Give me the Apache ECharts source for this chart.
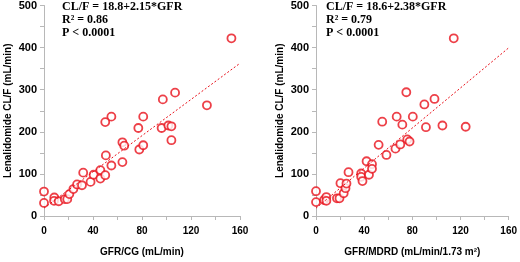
<!DOCTYPE html>
<html>
<head>
<meta charset="utf-8">
<script src="https://cdn.jsdelivr.net/npm/echarts@6/dist/echarts.min.js"></script>
<style>
  html, body { margin: 0; padding: 0; background: #fff; }
  #chart { width: 520px; height: 262px; }
</style>
</head>
<body>
<div id="chart"></div>
<script>
// GFR (Cockcroft-Gault) vs lenalidomide CL/F
var cgPoints = [
  [0, 58], [0, 31], [8.4, 44], [8.2, 36], [12, 35], [17, 40], [19, 40], [20.7, 52],
  [24, 64], [27, 75], [31, 73], [32, 103], [38, 81], [40.5, 98], [46, 109], [46, 89],
  [50, 97], [50.5, 144], [55, 120], [64, 128], [64, 175], [65.5, 167], [77.8, 158], [81, 168],
  [104, 180], [77, 209], [96, 209], [101.5, 215], [104, 213], [81, 236], [55, 236], [50, 223],
  [97, 277], [107, 293], [133, 263], [153, 422]
];
// GFR (MDRD) vs lenalidomide CL/F
var mdrdPoints = [
  [0, 59], [0, 33], [6.7, 38], [8.6, 45], [8.6, 36], [17.4, 42], [19.5, 42], [20.3, 78],
  [23, 54], [24.5, 66], [25.3, 77], [27, 104], [37.5, 101], [37.5, 93], [38.6, 83], [42, 130],
  [44, 98], [46.5, 123], [46.5, 112], [52, 169], [58.5, 145], [66, 160], [70, 170], [75.8, 182],
  [77.7, 177], [55, 224], [67, 236], [71.7, 217], [75, 294], [80.4, 236], [90, 265], [98.4, 278],
  [91.3, 211], [105, 215], [124.3, 212], [114.4, 422]
];
// regression lines (end points)
var cgFit = [[0, 18.8], [160, 362.8]];
var mdrdFit = [[0, 18.6], [160, 399.4]];

var xTicks = [0, 40, 80, 120, 160];
var yTicks = [0, 100, 200, 300, 400, 500];
var cgText = ['CL/F = 18.8+2.15*GFR', 'R\u00b2 = 0.86', 'P < 0.0001'];
var mdrdText = ['CL/F = 18.6+2.38*GFR', 'R\u00b2 = 0.79', 'P < 0.0001'];

var red = '#e8101a';
var axisGray = '#b8b8b8';
var labelFont = { fontFamily: 'Liberation Sans', fontWeight: 'bold', fontSize: 10, color: '#000' };

function xAxis(idx, name) {
  return {
    type: 'value', gridIndex: idx, min: 0, max: 160, interval: 20,
    name: name, nameLocation: 'middle', nameGap: 31,
    nameTextStyle: labelFont,
    axisLine: { onZero: false, lineStyle: { color: axisGray } },
    axisTick: { length: 4, lineStyle: { color: axisGray } },
    splitLine: { show: false },
    axisLabel: Object.assign({ margin: 10, formatter: function (v) {
      return xTicks.indexOf(v) >= 0 ? String(v) : '';
    } }, labelFont)
  };
}
function yAxis(idx) {
  return {
    type: 'value', gridIndex: idx, min: 0, max: 500, interval: 50,
    name: 'Lenalidomide CL/F (mL/min)', nameLocation: 'middle', nameGap: 31,
    nameTextStyle: labelFont,
    axisLine: { show: true, onZero: false, lineStyle: { color: axisGray } },
    axisTick: { show: true, length: 4, lineStyle: { color: axisGray } },
    splitLine: { show: false },
    axisLabel: Object.assign({}, labelFont, { fontSize: 11, margin: 7, formatter: function (v) {
      return yTicks.indexOf(v) >= 0 ? String(v) : '';
    } })
  };
}
function noteText(x, lines) {
  return lines.map(function (t, i) {
    return {
      type: 'text', left: x, top: 1 + i * 13,
      style: { text: t, font: 'bold 12px "Liberation Serif"', fill: '#000' }
    };
  });
}

var chart = echarts.init(document.getElementById('chart'));
chart.setOption({
  animation: false,
  grid: [
    { left: 44, top: 4, width: 196, height: 215 },
    { left: 316, top: 4, width: 199, height: 215 }
  ],
  xAxis: [xAxis(0, 'GFR/CG (mL/min)'), xAxis(1, 'GFR/MDRD (mL/min/1.73 m\u00b2)')],
  yAxis: [yAxis(0), yAxis(1)],
  graphic: noteText(62, cgText).concat(noteText(326, mdrdText)),
  series: [
    {
      type: 'line', xAxisIndex: 0, yAxisIndex: 0, data: cgFit, symbol: 'none',
      lineStyle: { color: red, width: 1, type: [2, 2] }
    },
    {
      type: 'scatter', xAxisIndex: 0, yAxisIndex: 0, data: cgPoints, symbolSize: 8,
      itemStyle: { color: '#fff', borderColor: red, borderWidth: 1.8 }
    },
    {
      type: 'line', xAxisIndex: 1, yAxisIndex: 1, data: mdrdFit, symbol: 'none',
      lineStyle: { color: red, width: 1, type: [2, 2] }
    },
    {
      type: 'scatter', xAxisIndex: 1, yAxisIndex: 1, data: mdrdPoints, symbolSize: 8,
      itemStyle: { color: '#fff', borderColor: red, borderWidth: 1.8 }
    }
  ]
});
</script>
</body>
</html>
